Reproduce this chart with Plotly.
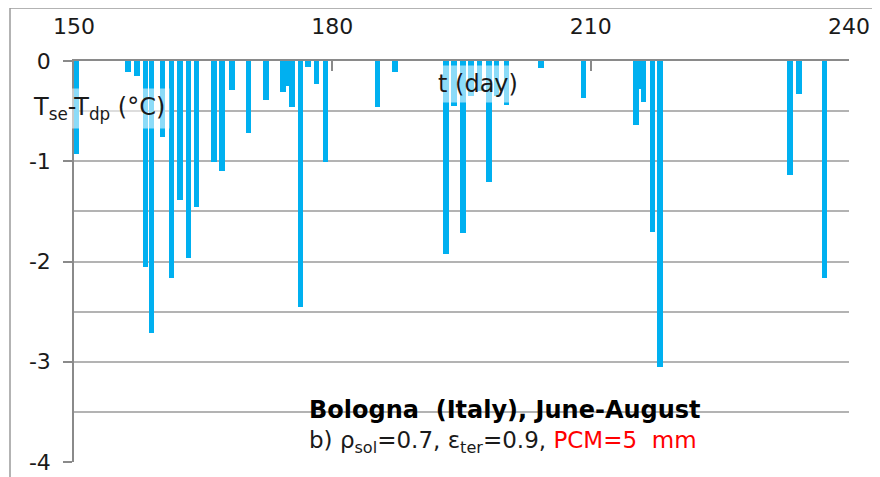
import plotly.graph_objects as go

# Day of year of each dip and its minimum value (Tse - Tdp, °C)
days = [150.31, 156.27, 157.32, 158.30, 159.02, 160.28, 161.30, 162.31, 163.30,
        164.25, 166.26, 167.19, 168.35, 170.24, 172.30, 174.27, 174.80, 175.32,
        176.30, 177.17, 178.20, 179.24, 185.21, 187.28, 193.20, 194.13, 195.17,
        196.10, 197.10, 198.19, 199.10, 200.25, 204.23, 209.15, 215.27, 215.70,
        216.11, 217.20, 218.05, 233.15, 234.19, 237.13]
values = [-0.93, -0.11, -0.15, -2.05, -2.71, -0.76, -2.16, -1.39, -1.97,
          -1.46, -1.01, -1.10, -0.29, -0.72, -0.39, -0.31, -0.25, -0.46,
          -2.45, -0.06, -0.23, -1.01, -0.46, -0.11, -1.93, -0.45, -1.72,
          -0.35, -0.30, -1.21, -0.35, -0.44, -0.07, -0.37, -0.64, -0.28,
          -0.41, -1.71, -3.05, -1.14, -0.33, -2.16]

x_ticks = [150, 180, 210, 240]
y_ticks = [0, -1, -2, -3, -4]

FONT = "DejaVu Sans, Verdana, sans-serif"
GRID = "#b3b3b3"
AXIS = "#8a8a8a"
TXT = "#1a1a1a"

fig = go.Figure(go.Bar(x=days, y=values, width=0.6,
                       marker=dict(color="#00B0F0", line=dict(width=0))))

# page offset from the default body margin
OFF = 8
W, H = 880, 477
# plot area in page pixels
PX0, PX1, PY0, PY1 = 74, 849, 61, 462
L, T = PX0 - OFF, PY0 - OFF
R = W - (PX1 - OFF)
B = H - (PY1 - OFF)
pw, ph = PX1 - PX0, PY1 - PY0

def px(x):
    return (x - PX0) / pw

def py(y):
    return (PY1 - y) / ph

fig.update_layout(
    width=W, height=H,
    margin=dict(l=L, r=R, t=T, b=B, pad=0, autoexpand=False),
    paper_bgcolor="white", plot_bgcolor="white",
    showlegend=False, bargap=0,
    font=dict(family=FONT, color=TXT),
    xaxis=dict(range=[150, 240], side="top", tickvals=x_ticks,
               ticktext=[str(v) for v in x_ticks],
               ticks="inside", ticklen=10, tickwidth=1.5, tickcolor=AXIS,
               showline=True, linecolor=AXIS, linewidth=1.5,
               showgrid=False, zeroline=False, automargin=False,
               tickfont=dict(size=22, family=FONT, color=TXT),
               ticklabelstandoff=16),
    yaxis=dict(range=[-4, 0], tickvals=y_ticks,
               ticktext=[str(v) for v in y_ticks],
               ticks="outside", ticklen=9, tickwidth=1.5, tickcolor=AXIS,
               showline=True, linecolor=AXIS, linewidth=1.5,
               showgrid=True, gridcolor=GRID, gridwidth=1.5,
               zeroline=False, automargin=False,
               minor=dict(dtick=0.5, showgrid=True, gridcolor=GRID,
                          gridwidth=1.5, ticks=""),
               tickfont=dict(size=22, family=FONT, color=TXT),
               ticklabelstandoff=8),
    shapes=[
        dict(type="line", xref="paper", yref="paper",
             x0=px(10), x1=px(900), y0=py(8), y1=py(8),
             line=dict(color="#9a9a9a", width=1.5)),
        dict(type="line", xref="paper", yref="paper",
             x0=px(10), x1=px(10), y0=py(8), y1=py(500),
             line=dict(color="#9a9a9a", width=1.5)),
    ],
    annotations=[
        dict(text="T<sub>se</sub>-T<sub>dp</sub> (°C)", xref="paper", yref="paper",
             x=px(28), y=py(108), xanchor="left", yanchor="middle",
             showarrow=False, font=dict(size=24, family=FONT, color=TXT),
             bgcolor="rgba(255,255,255,0.55)", borderpad=4),
        dict(text="t (day)", xref="paper", yref="paper",
             x=px(478), y=py(84), xanchor="center", yanchor="middle",
             showarrow=False, font=dict(size=24, family=FONT, color=TXT),
             bgcolor="rgba(255,255,255,0.55)", borderpad=4),
        dict(text="<b>Bologna  (Italy), June-August</b>", xref="paper", yref="paper",
             x=px(307), y=py(410), xanchor="left", yanchor="middle",
             showarrow=False, font=dict(size=24, family=FONT, color="#000000")),
        dict(text="b) ρ<sub>sol</sub>=0.7, ε<sub>ter</sub>=0.9, "
                  "<span style='color:#ff0000'>PCM=5  mm</span>",
             xref="paper", yref="paper",
             x=px(307), y=py(442), xanchor="left", yanchor="middle",
             showarrow=False, font=dict(size=23, family=FONT, color=TXT)),
    ],
)

fig.write_html("out.html")
